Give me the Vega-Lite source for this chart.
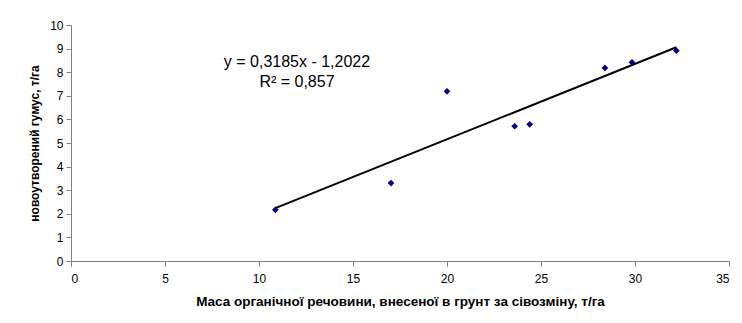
{
  "$schema": "https://vega.github.io/schema/vega-lite/v6.json",
  "autosize": {"type": "none"},
  "padding": {"left": 71, "top": 25, "right": 13, "bottom": 62},
  "width": 658,
  "height": 236,
  "background": "white",
  "config": {
    "view": {"stroke": null},
    "font": "Liberation Sans",
    "axis": {
      "grid": false,
      "domainColor": "#808080",
      "tickColor": "#808080",
      "tickSize": 5,
      "labelFont": "Liberation Sans",
      "labelFontSize": 12,
      "labelColor": "#000000",
      "titleFont": "Liberation Sans",
      "titleFontWeight": "bold",
      "titleColor": "#000000"
    }
  },
  "data": {
    "values": [
      {"x": 10.87, "y": 2.17},
      {"x": 17.02, "y": 3.30},
      {"x": 20.0, "y": 7.19},
      {"x": 23.6, "y": 5.71},
      {"x": 24.4, "y": 5.79},
      {"x": 28.4, "y": 8.18},
      {"x": 29.84, "y": 8.42},
      {"x": 32.2, "y": 8.91}
    ]
  },
  "layer": [
    {
      "transform": [{"regression": "y", "on": "x"}],
      "mark": {"type": "line", "color": "#000000", "strokeWidth": 2},
      "encoding": {
        "x": {"field": "x", "type": "quantitative",
              "axis": {"values": [0, 5, 10, 15, 20, 25, 30, 35], "labelPadding": 7, "titlePadding": 10, "titleFontSize": 13.5, "title": "Маса органічної речовини, внесеної в грунт за сівозміну, т/га"}},
        "y": {"field": "y", "type": "quantitative",
              "axis": {"values": [0, 1, 2, 3, 4, 5, 6, 7, 8, 9, 10], "labelPadding": 3, "titlePadding": 8, "titleFontSize": 12, "title": "новоутворений гумус, т/га"}}
      }
    },
    {
      "mark": {"type": "point", "shape": "diamond", "filled": true, "color": "#000080", "size": 45, "opacity": 1},
      "encoding": {
        "x": {
          "field": "x", "type": "quantitative",
          "scale": {"domain": [0, 35], "nice": false, "zero": true},
          "axis": {"values": [0, 5, 10, 15, 20, 25, 30, 35], "labelPadding": 7, "titlePadding": 10, "titleFontSize": 13.5, "title": "Маса органічної речовини, внесеної в грунт за сівозміну, т/га"}
        },
        "y": {
          "field": "y", "type": "quantitative",
          "scale": {"domain": [0, 10], "nice": false},
          "axis": {"values": [0, 1, 2, 3, 4, 5, 6, 7, 8, 9, 10], "labelPadding": 3, "titlePadding": 8, "titleFontSize": 12, "title": "новоутворений гумус, т/га"}
        }
      }
    },
    {
      "data": {"values": [{"label": "y = 0,3185x - 1,2022"}]},
      "mark": {"type": "text", "font": "Liberation Sans", "fontSize": 16, "fontWeight": "normal", "color": "#000000", "align": "center", "baseline": "middle"},
      "encoding": {
        "x": {"datum": 12.02, "type": "quantitative",
              "axis": {"values": [0, 5, 10, 15, 20, 25, 30, 35], "labelPadding": 7, "titlePadding": 10, "titleFontSize": 13.5, "title": "Маса органічної речовини, внесеної в грунт за сівозміну, т/га"}},
        "y": {"datum": 8.44, "type": "quantitative",
              "axis": {"values": [0, 1, 2, 3, 4, 5, 6, 7, 8, 9, 10], "labelPadding": 3, "titlePadding": 8, "titleFontSize": 12, "title": "новоутворений гумус, т/га"}},
        "text": {"field": "label"}
      }
    },
    {
      "data": {"values": [{"label": "R² = 0,857"}]},
      "mark": {"type": "text", "font": "Liberation Sans", "fontSize": 16, "fontWeight": "normal", "color": "#000000", "align": "center", "baseline": "middle"},
      "encoding": {
        "x": {"datum": 12.02, "type": "quantitative",
              "axis": {"values": [0, 5, 10, 15, 20, 25, 30, 35], "labelPadding": 7, "titlePadding": 10, "titleFontSize": 13.5, "title": "Маса органічної речовини, внесеної в грунт за сівозміну, т/га"}},
        "y": {"datum": 7.6, "type": "quantitative",
              "axis": {"values": [0, 1, 2, 3, 4, 5, 6, 7, 8, 9, 10], "labelPadding": 3, "titlePadding": 8, "titleFontSize": 12, "title": "новоутворений гумус, т/га"}},
        "text": {"field": "label"}
      }
    }
  ]
}
